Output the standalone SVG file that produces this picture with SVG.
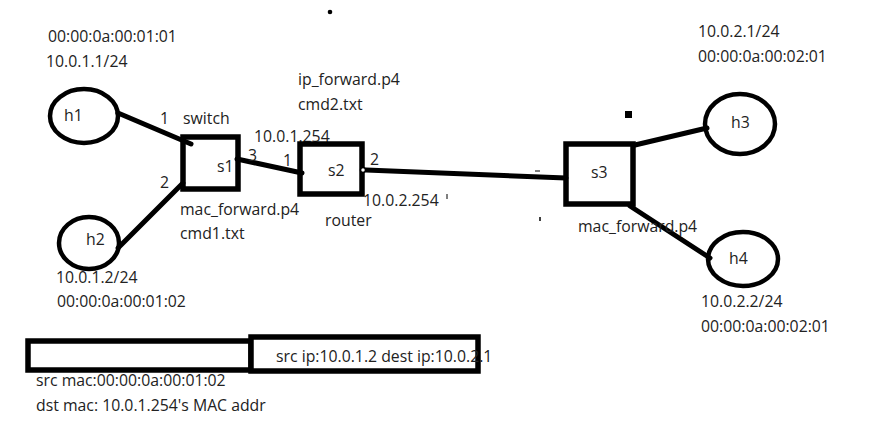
<svg xmlns="http://www.w3.org/2000/svg" width="871" height="447" viewBox="0 0 871 447">
<style>
text{font-family:"Open Sans","Liberation Sans",sans-serif;font-size:15.8px;fill:#222}
.host{fill:none;stroke:#000;stroke-width:4.5}
.sw{fill:none;stroke:#000;stroke-width:5.5}
.link{stroke:#000;stroke-width:5;stroke-linecap:round;fill:none}
.box{fill:#fff;stroke:#000;stroke-width:5.5}
</style>
<rect width="871" height="447" fill="#fff"/>
<circle cx="330" cy="12" r="2.3" fill="#000"/>
<rect x="625" y="111" width="7" height="7" fill="#000"/>
<g id="connectors">
<line class="link" x1="118" y1="113" x2="191" y2="144"/>
<line class="link" x1="118" y1="248" x2="183" y2="183"/>
<line class="link" x1="237" y1="159" x2="302" y2="173"/>
<line class="link" x1="366" y1="170" x2="566" y2="178"/>
<line class="link" x1="635" y1="145" x2="707" y2="128"/>
<line class="link" x1="630" y1="206" x2="710" y2="258"/>
</g>
<text x="254" y="142">10.0.1.254</text>
<g id="h1"><ellipse class="host" cx="84" cy="116" rx="34" ry="27"/><text x="64" y="121">h1</text></g>
<g id="h2"><ellipse class="host" cx="89" cy="243" rx="30" ry="26"/><text x="86" y="245">h2</text></g>
<g id="h3"><ellipse class="host" cx="740" cy="124" rx="35" ry="30"/><text x="731" y="128">h3</text></g>
<g id="h4"><ellipse class="host" cx="743" cy="259" rx="35" ry="27"/><text x="729" y="264">h4</text></g>
<g id="s1"><rect class="sw" x="183" y="137" width="55" height="52"/><text x="217" y="172">s1</text></g>
<g id="s2"><rect class="sw" x="300" y="144" width="62" height="50"/><text x="328" y="176">s2</text><circle cx="363" cy="170" r="2.5" fill="#fff" stroke="#000" stroke-width="1.5"/></g>
<g id="s3"><rect class="sw" x="566" y="144" width="67" height="60"/><text x="591" y="178">s3</text></g>
<text x="48" y="42">00:00:0a:00:01:01</text>
<text x="46" y="67">10.0.1.1/24</text>
<text x="160" y="124">1</text>
<text x="183" y="124">switch</text>
<text x="160" y="188">2</text>
<text x="248" y="161">3</text>
<text x="283" y="166">1</text>
<text x="370" y="165">2</text>
<text x="298" y="85">ip_forward.p4</text>
<text x="298" y="110">cmd2.txt</text>
<text x="363" y="206">10.0.2.254</text>
<line x1="447" y1="194" x2="447" y2="199" stroke="#000" stroke-width="1"/>
<text x="325" y="226">router</text>
<text x="180" y="215">mac_forward.p4</text>
<text x="180" y="239">cmd1.txt</text>
<text x="56" y="283">10.0.1.2/24</text>
<text x="57" y="307">00:00:0a:00:01:02</text>
<text x="698" y="37">10.0.2.1/24</text>
<text x="698" y="62">00:00:0a:00:02:01</text>
<line x1="535" y1="171" x2="540" y2="171" stroke="#000" stroke-width="1"/>
<line x1="540" y1="217" x2="540" y2="221" stroke="#000" stroke-width="1.5"/>
<text x="578" y="232">mac_forward.p4</text>
<text x="701" y="307">10.0.2.2/24</text>
<text x="701" y="332">00:00:0a:00:02:01</text>
<rect class="box" x="28" y="341" width="223" height="29"/>
<rect class="box" x="251" y="337" width="227" height="34"/>
<text x="276" y="362">src ip:10.0.1.2 dest ip:10.0.2.1</text>
<text x="36" y="386">src mac:00:00:0a:00:01:02</text>
<text x="36" y="411">dst mac: 10.0.1.254's MAC addr</text>
</svg>
